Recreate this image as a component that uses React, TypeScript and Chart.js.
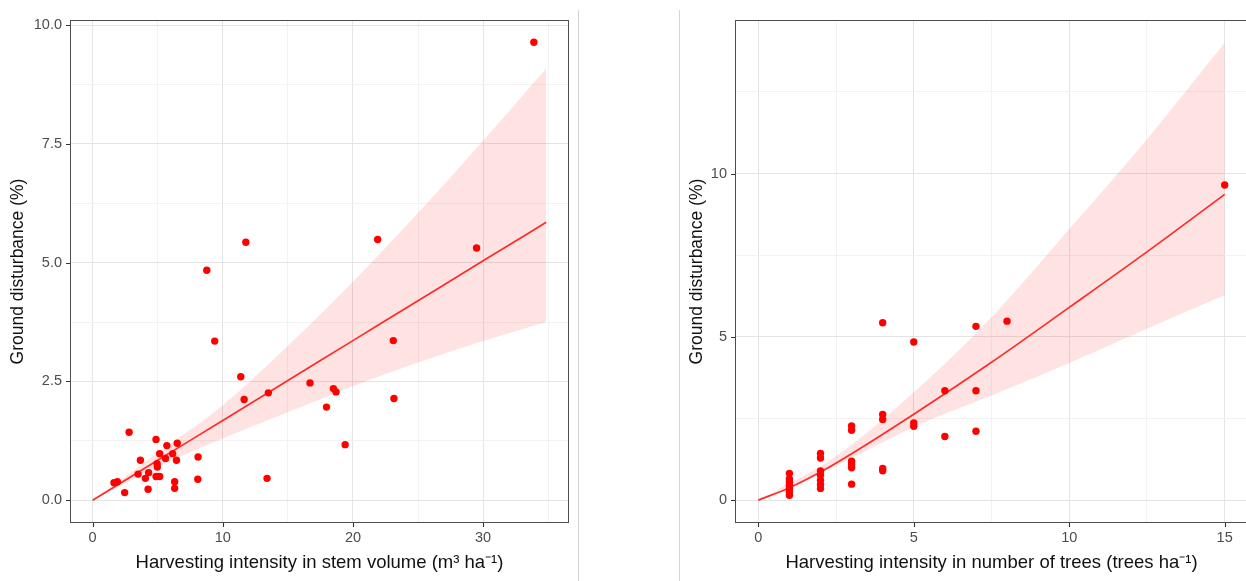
import React, { useEffect, useRef } from "react";
import { Chart, registerables } from "chart.js";

Chart.register(...registerables);

// ---------- Left panel: stem volume ----------
const stemVolume = [
  9.38, 23.1, 11.38, 11.64, 13.5, 16.7, 18.5, 18.7, 17.97, 23.15, 19.4, 13.4,
  2.8, 4.87, 5.7, 6.5, 5.15, 6.15, 5.6, 6.44, 3.67, 8.1, 4.95, 4.97, 3.49, 4.3,
  4.05, 4.87, 5.15, 8.08, 6.3, 6.3, 4.26, 2.46, 1.64, 1.9, 8.77, 11.77, 21.9,
  29.5, 33.9,
];
const disturbanceByVolume = [
  3.35, 3.36, 2.6, 2.12, 2.26, 2.47, 2.35, 2.28, 1.96, 2.14, 1.17, 0.46,
  1.43, 1.28, 1.15, 1.2, 0.98, 0.98, 0.88, 0.84, 0.84, 0.91, 0.77, 0.7, 0.55, 0.58,
  0.46, 0.5, 0.5, 0.44, 0.39, 0.25, 0.23, 0.16, 0.37, 0.39, 4.84, 5.43, 5.49,
  5.31, 9.64,
];
const volumeFitX = [0, 5, 10, 15, 20, 25, 30, 34.85];
const volumeFitY = [0, 0.84, 1.68, 2.52, 3.36, 4.2, 5.04, 5.85];
const volumeUpper = [0, 1.0, 2.0, 3.25, 4.6, 6.05, 7.57, 9.09];
const volumeLower = [0, 0.7, 1.3, 1.85, 2.4, 2.9, 3.35, 3.75];
const volumeXMajor = [0, 10, 20, 30];
const volumeXMinor = [5, 15, 25, 35];
const volumeYMajor = [0, 2.5, 5, 7.5, 10];
const volumeYMinor = [1.25, 3.75, 6.25, 8.75];

// ---------- Right panel: number of trees ----------
const treeCount = [
  1, 1, 1, 1, 1, 1, 1,
  2, 2, 2, 2, 2, 2, 2,
  3, 3, 3, 3, 3, 3,
  4, 4, 4, 4, 4,
  5, 5, 5,
  6, 6,
  7, 7, 7,
  8,
  15,
];
const disturbanceByTrees = [
  0.82, 0.65, 0.55, 0.45, 0.35, 0.25, 0.15,
  1.43, 1.29, 0.89, 0.76, 0.61, 0.48, 0.36,
  2.27, 2.14, 1.19, 1.09, 0.99, 0.49,
  5.43, 2.62, 2.47, 0.97, 0.9,
  4.84, 2.36, 2.26,
  3.35, 1.95,
  5.32, 3.35, 2.11,
  5.48,
  9.65,
];
const treesFitX = [0, 1, 2, 3, 5, 7.5, 10, 12.5, 15];
const treesFitY = [0, 0.38, 0.86, 1.42, 2.63, 4.22, 5.9, 7.6, 9.36];
const treesBandX = [0, 2.5, 5, 7.5, 10, 12.5, 15];
const treesUpper = [0, 1.35, 3.3, 5.6, 8.3, 11.05, 14.0];
const treesLower = [0, 1.05, 2.24, 3.2, 4.2, 5.25, 6.27];
const treesXMajor = [0, 5, 10, 15];
const treesXMinor = [2.5, 7.5, 12.5];
const treesYMajor = [0, 5, 10];
const treesYMinor = [2.5, 7.5, 12.5];

const FONT = "'Liberation Sans', Arial, Helvetica, sans-serif";

const isIn = (arr: number[], v: number) => arr.some((a) => Math.abs(a - v) < 1e-9);

function makeBorderPlugin(xMajor: number[], yMajor: number[]) {
  return {
    id: "panelBorder",
    afterDatasetsDraw(chart: any) {
      const { ctx, chartArea, scales } = chart;
      const { left, top, right, bottom } = chartArea;
      ctx.save();
      ctx.strokeStyle = "#4d4d4d";
      ctx.lineWidth = 1;
      ctx.strokeRect(left + 0.5, top + 0.5, right - left - 1, bottom - top - 1);
      ctx.strokeStyle = "#333333";
      ctx.lineWidth = 1.1;
      ctx.beginPath();
      for (const v of xMajor) {
        const px = Math.round(scales.x.getPixelForValue(v)) + 0.5;
        ctx.moveTo(px, bottom);
        ctx.lineTo(px, bottom + 4);
      }
      for (const v of yMajor) {
        const py = Math.round(scales.y.getPixelForValue(v)) + 0.5;
        ctx.moveTo(left, py);
        ctx.lineTo(left - 4, py);
      }
      ctx.stroke();
      ctx.restore();
    },
  };
}

type PanelSpec = {
  x: number[];
  y: number[];
  fitX: number[];
  fitY: number[];
  bandX: number[];
  upper: number[];
  lower: number[];
  xMin: number;
  xMax: number;
  yMin: number;
  yMax: number;
  xMajor: number[];
  xMinor: number[];
  yMajor: number[];
  yMinor: number[];
  yFmt: (v: number) => string;
  xTitle: string;
  yTitle: string;
  yAxisWidth: number;
  yTitlePad: number;
  padRight: number;
};

const toPts = (xs: number[], ys: number[]) => xs.map((x, i) => ({ x, y: ys[i] }));

function makeConfig(p: PanelSpec): any {
  const gridColor = (major: number[]) => (ctx: any) =>
    ctx.tick && isIn(major, ctx.tick.value) ? "#e4e4e4" : "#f2f2f2";
  return {
    type: "scatter",
    data: {
      datasets: [
        {
          label: "observed",
          data: toPts(p.x, p.y),
          backgroundColor: "#ff0000",
          borderColor: "#ff0000",
          borderWidth: 0,
          pointRadius: 3.7,
          order: 0,
        },
        {
          label: "fit",
          data: toPts(p.fitX, p.fitY),
          showLine: true,
          pointRadius: 0,
          borderColor: "#ff2b2b",
          borderWidth: 1.7,
          fill: false,
          cubicInterpolationMode: "monotone",
          order: 1,
        },
        {
          label: "upper",
          data: toPts(p.bandX, p.upper),
          showLine: true,
          pointRadius: 0,
          borderColor: "rgba(0,0,0,0)",
          backgroundColor: "rgba(255,0,0,0.11)",
          fill: 3,
          cubicInterpolationMode: "monotone",
          order: 2,
        },
        {
          label: "lower",
          data: toPts(p.bandX, p.lower),
          showLine: true,
          pointRadius: 0,
          borderColor: "rgba(0,0,0,0)",
          fill: false,
          cubicInterpolationMode: "monotone",
          order: 3,
        },
      ],
    },
    options: {
      animation: false,
      responsive: false,
      events: [],
      layout: { padding: { top: 20, right: p.padRight, bottom: 0, left: 0 } },
      plugins: { legend: { display: false }, tooltip: { enabled: false } },
      scales: {
        x: {
          type: "linear",
          min: p.xMin,
          max: p.xMax,
          afterBuildTicks: (s: any) => {
            s.ticks = [...p.xMajor, ...p.xMinor].sort((a, b) => a - b).map((v) => ({ value: v }));
          },
          afterFit: (s: any) => {
            s.height = 58;
          },
          ticks: {
            autoSkip: false,
            maxRotation: 0,
            color: "#4d4d4d",
            font: { family: FONT, size: 14.5 },
            padding: 2,
            callback: (v: any) => (isIn(p.xMajor, Number(v)) ? String(v) : ""),
          },
          grid: {
            color: gridColor(p.xMajor),
            lineWidth: 1,
            tickLength: 4,
            tickColor: "rgba(0,0,0,0)",
          },
          border: { display: false },
          title: {
            display: true,
            text: p.xTitle,
            color: "#111111",
            font: { family: FONT, size: 18.5 },
            padding: { top: 0, bottom: 7 },
          },
        },
        y: {
          type: "linear",
          min: p.yMin,
          max: p.yMax,
          afterBuildTicks: (s: any) => {
            s.ticks = [...p.yMajor, ...p.yMinor].sort((a, b) => a - b).map((v) => ({ value: v }));
          },
          afterFit: (s: any) => {
            s.width = p.yAxisWidth;
          },
          ticks: {
            autoSkip: false,
            color: "#4d4d4d",
            font: { family: FONT, size: 14.5 },
            padding: 4,
            callback: (v: any) => (isIn(p.yMajor, Number(v)) ? p.yFmt(Number(v)) : ""),
          },
          grid: {
            color: gridColor(p.yMajor),
            lineWidth: 1,
            tickLength: 4,
            tickColor: "rgba(0,0,0,0)",
          },
          border: { display: false },
          title: {
            display: true,
            text: p.yTitle,
            color: "#111111",
            font: { family: FONT, size: 17.5 },
            padding: { top: p.yTitlePad, bottom: 0 },
          },
        },
      },
    },
    plugins: [makeBorderPlugin(p.xMajor, p.yMajor)],
  };
}

const leftSpec: PanelSpec = {
  x: stemVolume,
  y: disturbanceByVolume,
  fitX: volumeFitX,
  fitY: volumeFitY,
  bandX: volumeFitX,
  upper: volumeUpper,
  lower: volumeLower,
  xMin: -1.74,
  xMax: 36.6,
  yMin: -0.48,
  yMax: 10.11,
  xMajor: volumeXMajor,
  xMinor: volumeXMinor,
  yMajor: volumeYMajor,
  yMinor: volumeYMinor,
  yFmt: (v) => v.toFixed(1),
  xTitle: "Harvesting intensity in stem volume (m³ ha⁻¹)",
  yTitle: "Ground disturbance (%)",
  yAxisWidth: 70,
  yTitlePad: 7.5,
  padRight: 9,
};

const rightSpec: PanelSpec = {
  x: treeCount,
  y: disturbanceByTrees,
  fitX: treesFitX,
  fitY: treesFitY,
  bandX: treesBandX,
  upper: treesUpper,
  lower: treesLower,
  xMin: -0.75,
  xMax: 15.75,
  yMin: -0.7,
  yMax: 14.7,
  xMajor: treesXMajor,
  xMinor: treesXMinor,
  yMajor: treesYMajor,
  yMinor: treesYMinor,
  yFmt: (v) => String(v),
  xTitle: "Harvesting intensity in number of trees (trees ha⁻¹)",
  yTitle: "Ground disturbance (%)",
  yAxisWidth: 55,
  yTitlePad: 6.5,
  padRight: 4,
};

function Panel({ spec, left, width }: { spec: PanelSpec; left: number; width: number }) {
  const ref = useRef<HTMLCanvasElement | null>(null);
  useEffect(() => {
    if (!ref.current) return;
    const chart = new Chart(ref.current, makeConfig(spec));
    return () => chart.destroy();
  }, [spec]);
  return (
    <canvas
      ref={ref}
      width={width}
      height={581}
      style={{ position: "absolute", left, top: 0, width, height: 581 }}
    />
  );
}

export default function App() {
  return (
    <div
      style={{
        position: "fixed",
        left: 0,
        top: 0,
        width: 1246,
        height: 581,
        overflow: "hidden",
        background: "#ffffff",
      }}
    >
      <Panel spec={leftSpec} left={0} width={578} />
      <Panel spec={rightSpec} left={680} width={572} />
      <div style={{ position: "absolute", left: 578, top: 10, width: 1, height: 571, background: "#d4d4d4" }} />
      <div style={{ position: "absolute", left: 679, top: 10, width: 1, height: 571, background: "#d4d4d4" }} />
    </div>
  );
}
